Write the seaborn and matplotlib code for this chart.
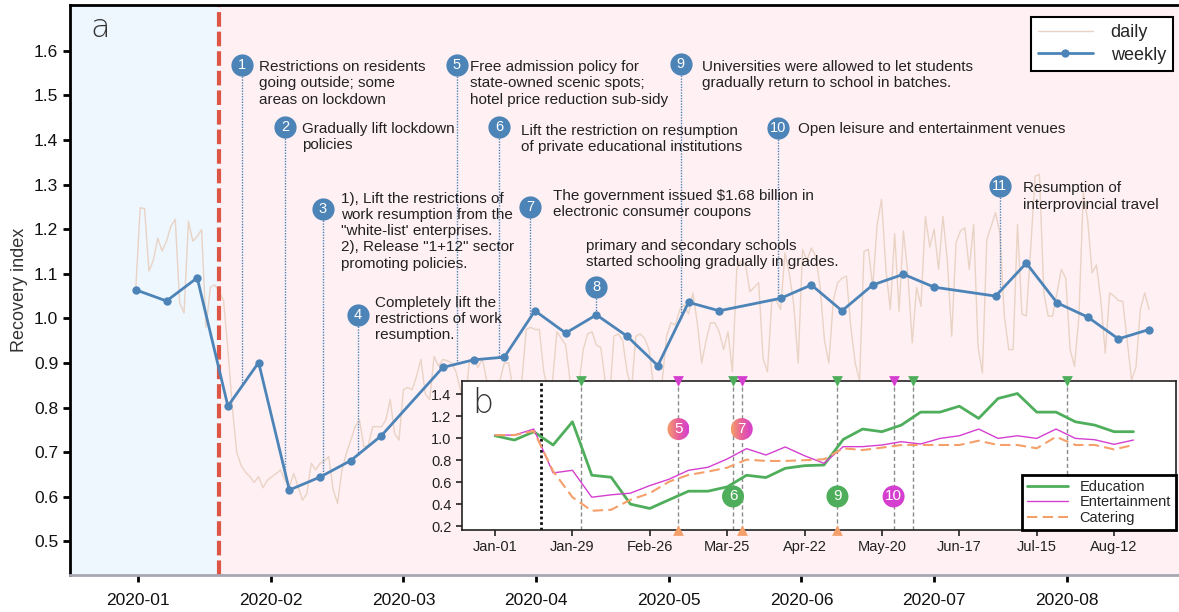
import numpy as np
import pandas as pd
import matplotlib
matplotlib.use("Agg")
import matplotlib.pyplot as plt
import seaborn as sns
from matplotlib.patches import Ellipse
from matplotlib.colors import LinearSegmentedColormap

sns.set_style("ticks")
plt.rcParams['font.family'] = ['Liberation Sans', 'DejaVu Sans']

# ---------------- data: panel a ----------------
daily = [1.068, 1.248, 1.246, 1.106, 1.13, 1.18, 1.151, 1.173, 1.207, 1.222,
         1.035, 1.012, 1.218, 1.173, 1.184, 1.199, 0.98, 1.07, 1.075, 1.06,
         1.04, 0.93, 0.80, 0.70, 0.67, 0.655, 0.645, 0.632, 0.645, 0.62,
         0.637, 0.645, 0.652, 0.66, 0.637, 0.622, 0.652, 0.622, 0.592, 0.607,
         0.675, 0.66, 0.675, 0.68, 0.69, 0.615, 0.585, 0.66, 0.697, 0.727,
         0.757, 0.772, 0.712, 0.715, 0.757, 0.757, 0.757, 0.772, 0.818, 0.742,
         0.727, 0.84, 0.845, 0.84, 0.87, 0.908, 0.83, 0.818, 0.915, 0.893,
         0.908, 0.905, 0.90, 0.88, 0.84, 0.80, 0.90, 0.91, 0.89, 0.91,
         0.86, 0.82, 0.80, 0.86, 0.90, 0.90, 0.84, 0.80, 0.86, 0.975,
         0.98, 0.975, 0.975, 0.88, 0.84, 0.86, 0.97, 0.955, 0.94, 0.86,
         0.82, 0.85, 0.93, 0.965, 0.97, 0.94, 0.935, 0.86, 0.82, 0.96,
         0.965, 0.95, 0.88, 0.84, 0.96, 0.965, 0.955, 0.93, 0.85, 0.80,
         0.86, 0.96, 0.99, 0.985, 1.02, 1.03, 1.01, 1.057, 0.99, 0.90,
         0.95, 0.99, 0.99, 0.97, 0.93, 0.97, 0.88, 1.11, 1.13, 1.12,
         1.06, 1.07, 1.08, 0.91, 0.88, 1.04, 1.04, 1.02, 1.147, 1.10,
         1.03, 0.90, 1.155, 1.13, 1.158, 1.14, 1.07, 0.95, 0.90, 1.04,
         1.08, 1.09, 1.095, 0.98, 0.90, 0.86, 1.15, 1.155, 1.07, 1.21,
         1.267, 1.11, 1.02, 1.19, 1.016, 1.196, 1.10, 0.945, 1.07, 1.027,
         1.229, 1.16, 1.20, 1.11, 1.229, 1.13, 0.96, 1.17, 1.196, 1.203,
         1.11, 1.211, 0.937, 0.877, 1.177, 1.207, 1.237, 1.19, 1.005, 0.93,
         0.93, 1.211, 1.01, 1.005, 1.155, 1.319, 1.323, 1.057, 1.005, 1.005,
         1.057, 1.11, 1.09, 0.93, 0.892, 1.005, 1.282, 1.22, 1.102, 1.12,
         1.04, 0.922, 1.057, 1.05, 1.04, 1.038, 0.95, 0.862, 0.89, 1.02,
         1.057, 1.02]
weeks = [0, 1, 2, 3, 4, 5, 6, 7, 8, 10, 11, 12, 13, 14, 15, 16, 17, 18, 19,
         21, 22, 23, 24, 25, 26, 28, 29, 30, 31, 32, 33]
weekly = [1.064, 1.039, 1.091, 0.803, 0.901, 0.615, 0.644, 0.681, 0.737,
          0.890, 0.907, 0.913, 1.017, 0.967, 1.008, 0.960, 0.894, 1.036,
          1.017, 1.045, 1.075, 1.017, 1.075, 1.099, 1.070, 1.050, 1.124,
          1.035, 1.003, 0.954, 0.975]
month_labels = ['2020-01', '2020-02', '2020-03', '2020-04',
                '2020-05', '2020-06', '2020-07', '2020-08']

event_days = [24.3, 34.1, 42.6, 50.6, 73.2, 82.8, 89.9, 105.0, 124.2, 146.4, 196.9]
event_texts = [
    "Restrictions on residents\ngoing outside; some\nareas on lockdown",
    "Gradually lift lockdown\npolicies",
    "1), Lift the restrictions of\nwork resumption from the\n\"white-list' enterprises.\n"
    "2), Release \"1+12\" sector\npromoting policies.",
    "Completely lift the\nrestrictions of work\nresumption.",
    "Free admission policy for\nstate-owned scenic spots;\nhotel price reduction sub-sidy",
    "Lift the restriction on resumption\nof private educational institutions",
    "The government issued \\$1.68 billion in\nelectronic consumer coupons",
    "primary and secondary schools\nstarted schooling gradually in grades.",
    "Universities were allowed to let students\ngradually return to school in batches.",
    "Open leisure and entertainment venues",
    "Resumption of\ninterprovincial travel",
]
# layout of the callouts: circle height, text offset (px) and alignment
event_y = [1.568, 1.429, 1.246, 1.008, 1.568, 1.429, 1.249, 1.071, 1.570, 1.427, 1.296]
text_off = [(17, 5, 'top'), (17, 5, 'top'), (18, 17, 'top'), (17, -4, 'center'),
            (13, 5, 'top'), (22, 3, 'top'), (23, 3, 'center'), (-10, 18, 'bottom'),
            (21, 4, 'top'), (20, -1, 'center'), (23, 5, 'top')]

# ---------------- data: panel b ----------------
b_weeks = list(range(34))
education = [1.022, 0.983, 1.059, 0.938, 1.149, 0.663, 0.645, 0.40, 0.361, 0.44,
             0.518, 0.518, 0.557, 0.663, 0.642, 0.726, 0.75, 0.756, 0.989, 1.083,
             1.059, 1.119, 1.237, 1.237, 1.291, 1.18, 1.361, 1.406, 1.237, 1.237,
             1.149, 1.119, 1.059, 1.059]
entertainment = [1.028, 1.028, 1.083, 0.684, 0.708, 0.463, 0.485, 0.50, 0.569, 0.627,
                 0.708, 0.735, 0.811, 0.905, 0.847, 0.92, 0.84, 0.772, 0.923, 0.923,
                 0.938, 0.968, 0.947, 0.998, 1.022, 1.083, 0.998, 1.022, 0.998, 1.083,
                 0.998, 0.986, 0.944, 0.983]
catering = [1.028, 1.028, 1.065, 0.70, 0.463, 0.34, 0.349, 0.44, 0.50, 0.605,
            0.666, 0.696, 0.732, 0.805, 0.793, 0.793, 0.80, 0.808, 0.908, 0.892,
            0.914, 0.938, 0.938, 0.938, 0.938, 0.977, 0.938, 0.938, 0.908, 1.013,
            0.938, 0.938, 0.898, 0.938]
b_tick_labels = ['Jan-01', 'Jan-29', 'Feb-26', 'Mar-25', 'Apr-22',
                 'May-20', 'Jun-17', 'Jul-15', 'Aug-12']
edu_events = [4.43, 12.3, 17.7, 21.6, 29.56]
ent_events = [9.48, 12.75, 20.6]
cat_events = [9.48, 12.75, 17.7]

C_BLUE = '#4d84b8'
C_DAILY = '#e9d3c4'
C_EDU = '#4fae5b'
C_ENT = '#d43fd0'
C_CAT = '#f5a06a'

fig = plt.figure(figsize=(11.79, 6.12), dpi=100)
ax = fig.add_axes([70 / 1179, 1 - 575 / 612, 1112 / 1179, 570 / 612])

XL, XR = -15.0, 238.5
LOCK = 19.0
ax.axvspan(XL, LOCK, color='#eef6fe', lw=0, zorder=0)
ax.axvspan(LOCK, XR, color='#fff0f4', lw=0, zorder=0)

df_daily = pd.DataFrame({'day': np.arange(len(daily)), 'value': daily})
df_week = pd.DataFrame({'day': np.array(weeks) * 7, 'value': weekly})
sns.lineplot(data=df_daily, x='day', y='value', color=C_DAILY, lw=1,
             ax=ax, label='daily', zorder=1)
sns.lineplot(data=df_week, x='day', y='value', color=C_BLUE, lw=2,
             marker='o', markersize=6, markeredgewidth=0, ax=ax,
             label='weekly', zorder=3)

ax.axvline(LOCK, color='#dc5545', lw=3, ls=(0, (3.5, 1.2)), zorder=2)

for i, (d, cy, txt) in enumerate(zip(event_days, event_y, event_texts)):
    y_line = np.interp(d, df_week['day'], df_week['value'])
    ax.plot([d, d], [cy, y_line], color=C_BLUE, lw=1, ls=(0, (1, 1)), zorder=2)
    ax.scatter([d], [cy], s=16 ** 2, color=C_BLUE, zorder=5, linewidths=0)
    ax.text(d, cy, str(i + 1), color='white', fontsize=10.5, ha='center',
            va='center', zorder=6)
    dx, dy, va = text_off[i]
    ax.annotate(txt, xy=(d, cy), xytext=(dx, dy), textcoords='offset pixels',
                ha='left', va=va, fontsize=11, linespacing=1.2,
                color='#222222', zorder=6)

ax.text(0.018, 0.944, 'a', transform=ax.transAxes, fontsize=23,
        family='DejaVu Sans', fontweight='light',
        color='#333333', ha='left', va='baseline')

ax.set_xlim(XL, XR)
ax.set_ylim(0.4243, 1.703)
ax.set_xticks(0.5 + 30.25 * np.arange(len(month_labels)))
ax.set_xticklabels(month_labels)
ax.set_yticks(np.round(np.arange(0.5, 1.65, 0.1), 1))
ax.set_yticklabels([f'{v:.1f}' for v in np.arange(0.5, 1.65, 0.1)])
ax.tick_params(axis='both', labelsize=12.5, length=5, width=2, color='black',
               labelcolor='#111111')
ax.tick_params(axis='x', pad=8)
ax.set_xlabel('')
ax.set_ylabel('Recovery index', fontsize=13, color='#333333', labelpad=4)
for s in ['left', 'top']:
    ax.spines[s].set_color('black')
    ax.spines[s].set_linewidth(2)
ax.spines['bottom'].set_color('#a6a8b4')
ax.spines['bottom'].set_linewidth(2)
ax.spines['right'].set_visible(False)

leg = ax.legend(loc='upper right', bbox_to_anchor=(0.992, 0.979), borderaxespad=0,
                fontsize=13, frameon=True, fancybox=False, handlelength=3.0,
                borderpad=0.4, labelspacing=0.3, handletextpad=1.0)
leg.get_frame().set_edgecolor('black')
leg.get_frame().set_linewidth(1.5)
leg.get_frame().set_facecolor('white')
leg.get_frame().set_alpha(1)

# ---------------- panel b (inset) ----------------
axb = fig.add_axes([462 / 1179, 1 - 530 / 612, 714 / 1179, 149 / 612])
axb.set_facecolor('white')
df_b = pd.DataFrame({'week': b_weeks, 'Education': education,
                     'Entertainment': entertainment, 'Catering': catering})
sns.lineplot(data=df_b, x='week', y='Education', color=C_EDU, lw=2,
             ax=axb, label='Education', zorder=3)
sns.lineplot(data=df_b, x='week', y='Entertainment', color=C_ENT, lw=1,
             ax=axb, label='Entertainment', zorder=3)
sns.lineplot(data=df_b, x='week', y='Catering', color=C_CAT, lw=1.5,
             ls=(0, (5, 2.5)), ax=axb, label='Catering', zorder=3)

BX0, BX1 = -1.71, 35.2
BY0, BY1 = 0.165, 1.52
axb.axvline(2.36, color='#111111', lw=2, ls=(0, (1, 1)), zorder=2)
for w in sorted(set(edu_events + ent_events + cat_events)):
    axb.axvline(w, color='#8a8a8a', lw=1, ls=(0, (3, 2)), zorder=1)
axb.scatter(edu_events, [BY1] * len(edu_events), marker='v', s=60, color=C_EDU,
            clip_on=False, zorder=6, linewidths=0)
axb.scatter(ent_events, [BY1] * len(ent_events), marker='v', s=60, color=C_ENT,
            clip_on=False, zorder=6, linewidths=0)
axb.scatter(cat_events, [BY0] * len(cat_events), marker='^', s=60, color=C_CAT,
            clip_on=False, zorder=6, linewidths=0)

axb.set_xlim(BX0, BX1)
axb.set_ylim(BY0, BY1)

# numbered badges on the inset (22 px circles)
cw = 22 / axb.bbox.width * (BX1 - BX0)
ch = 22 / axb.bbox.height * (BY1 - BY0)
grad_cmap = LinearSegmentedColormap.from_list('oc', [C_CAT, '#e8609a', C_ENT])


def badge(x, y, label, color=None):
    if color is None:
        im = axb.imshow(np.linspace(0, 1, 64).reshape(1, -1), cmap=grad_cmap,
                        extent=[x - cw / 2, x + cw / 2, y - ch / 2, y + ch / 2],
                        aspect='auto', zorder=5)
        patch = Ellipse((x, y), cw, ch, facecolor='none', edgecolor='none',
                        transform=axb.transData)
        axb.add_patch(patch)
        im.set_clip_path(patch)
    else:
        axb.add_patch(Ellipse((x, y), cw, ch, facecolor=color, edgecolor='none',
                              zorder=5))
    axb.text(x, y, label, color='white', fontsize=11, ha='center', va='center',
             zorder=6)


badge(ent_events[0], 1.083, '5')
badge(ent_events[1], 1.083, '7')
badge(edu_events[1], 0.47, '6', C_EDU)
badge(edu_events[2], 0.47, '9', C_EDU)
badge(ent_events[2], 0.47, '10', C_ENT)

axb.set_xlim(BX0, BX1)
axb.set_ylim(BY0, BY1)
axb.set_xticks(np.arange(0, 33, 4))
axb.set_xticklabels(b_tick_labels)
axb.set_yticks([0.2, 0.4, 0.6, 0.8, 1.0, 1.2, 1.4])
axb.set_yticklabels(['0.2', '0.4', '0.6', '0.8', '1.0', '1.2', '1.4'])
axb.tick_params(labelsize=10.5, length=4, width=1.2, color='#222222',
                labelcolor='#222222')
axb.set_xlabel('')
axb.set_ylabel('')
for s in axb.spines.values():
    s.set_color('#222222')
    s.set_linewidth(1.2)
axb.text(0.015, 0.96, 'b', transform=axb.transAxes, fontsize=24,
         family='DejaVu Sans', fontweight='light',
         color='#333333', ha='left', va='top')
legb = axb.legend(loc='lower right', borderaxespad=0, fontsize=10.5,
                  frameon=True, fancybox=False, handlelength=2.8,
                  borderpad=0.35, labelspacing=0.1)
legb.get_frame().set_edgecolor('black')
legb.get_frame().set_linewidth(2)
legb.get_frame().set_alpha(1)

fig.savefig('out.png', dpi=100)
